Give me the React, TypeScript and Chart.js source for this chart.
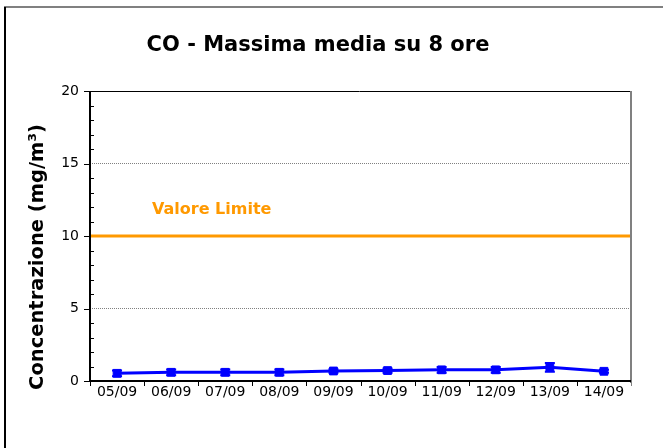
import React, { useEffect, useRef } from "react";
import { Chart, registerables } from "chart.js";

Chart.register(...registerables);

const categories = ["05/09", "06/09", "07/09", "08/09", "09/09", "10/09", "11/09", "12/09", "13/09", "14/09"];
const values = [0.53, 0.6, 0.6, 0.6, 0.69, 0.72, 0.77, 0.77, 0.94, 0.67];
const errors = [0.2, 0.2, 0.2, 0.2, 0.12, 0.15, 0.2, 0.2, 0.3, 0.1];
const limitValue = 10;
const yTicks = [0, 5, 10, 15, 20];
const titleText = "CO - Massima media su 8 ore";
const yTitle = "Concentrazione (mg/m³)";
const limitLabel = "Valore Limite";

const FONT = "'DejaVu Sans', Verdana, sans-serif";

const decorPlugin = {
  id: "decor",
  beforeDraw(chart: any) {
    const ctx = chart.ctx;
    ctx.save();
    ctx.fillStyle = "#ffffff";
    ctx.fillRect(0, 0, chart.width, chart.height);
    ctx.restore();
  },
  beforeDatasetsDraw(chart: any) {
    const ctx = chart.ctx;
    const { left, right } = chart.chartArea;
    const y = chart.scales.y;
    const py = y.getPixelForValue(limitValue);
    ctx.save();
    ctx.strokeStyle = "#ff9900";
    ctx.lineWidth = 3;
    ctx.beginPath();
    ctx.moveTo(left, py);
    ctx.lineTo(right, py);
    ctx.stroke();
    ctx.restore();
  },
  afterDatasetsDraw(chart: any) {
    const ctx = chart.ctx;
    const y = chart.scales.y;
    const x = chart.scales.x;
    ctx.save();
    ctx.strokeStyle = "#0000ff";
    ctx.lineWidth = 2;
    values.forEach((v, i) => {
      const px = x.getPixelForValue(i);
      const y1 = y.getPixelForValue(v - errors[i]);
      const y2 = y.getPixelForValue(v + errors[i]);
      ctx.beginPath();
      ctx.moveTo(px, y1);
      ctx.lineTo(px, y2);
      ctx.moveTo(px - 5, y1);
      ctx.lineTo(px + 5, y1);
      ctx.moveTo(px - 5, y2);
      ctx.lineTo(px + 5, y2);
      ctx.stroke();
    });
    ctx.restore();
  },
  afterDraw(chart: any) {
    const ctx = chart.ctx;
    const { left, right, top, bottom } = chart.chartArea;
    const y = chart.scales.y;
    ctx.save();
    ctx.lineWidth = 1;
    ctx.strokeStyle = "#000000";
    ctx.beginPath();
    ctx.moveTo(left - 2, Math.round(top) + 0.5);
    ctx.lineTo(right, Math.round(top) + 0.5);
    ctx.stroke();
    ctx.strokeStyle = "#808080";
    ctx.lineWidth = 2;
    ctx.beginPath();
    ctx.moveTo(Math.round(right), top);
    ctx.lineTo(Math.round(right), bottom + 2);
    ctx.stroke();
    ctx.strokeStyle = "#000000";
    ctx.lineWidth = 2;
    ctx.beginPath();
    ctx.moveTo(Math.round(left), top);
    ctx.lineTo(Math.round(left), bottom + 1);
    ctx.stroke();
    ctx.beginPath();
    ctx.moveTo(left, Math.round(bottom));
    ctx.lineTo(right, Math.round(bottom));
    ctx.stroke();
    ctx.lineWidth = 1;
    for (let v = 0; v <= 20; v++) {
      const py = Math.round(y.getPixelForValue(v)) + 0.5;
      ctx.beginPath();
      if (v % 5 === 0) {
        ctx.moveTo(left - 6, py);
        ctx.lineTo(left, py);
      } else {
        ctx.moveTo(left, py);
        ctx.lineTo(left + 4, py);
      }
      ctx.stroke();
    }
    const n = categories.length;
    const w = (right - left) / n;
    for (let i = 0; i <= n; i++) {
      const px = Math.round(left + i * w) + 0.5;
      ctx.strokeStyle = i === n ? "#808080" : "#000000";
      ctx.beginPath();
      ctx.moveTo(px, bottom);
      ctx.lineTo(px, bottom + 5);
      ctx.stroke();
    }
    ctx.strokeStyle = "#808080";
    ctx.lineWidth = 2;
    ctx.beginPath();
    ctx.moveTo(4, 7);
    ctx.lineTo(chart.width, 7);
    ctx.stroke();
    ctx.strokeStyle = "#000000";
    ctx.beginPath();
    ctx.moveTo(5, 7);
    ctx.lineTo(5, chart.height);
    ctx.stroke();
    ctx.fillStyle = "#000000";
    ctx.font = `bold 21px ${FONT}`;
    ctx.textAlign = "center";
    ctx.textBaseline = "middle";
    ctx.fillText(titleText, 318, 46);
    ctx.save();
    ctx.translate(38, 257);
    ctx.rotate(-Math.PI / 2);
    ctx.font = `bold 19.5px ${FONT}`;
    ctx.fillText(yTitle, 0, 0);
    ctx.restore();
    ctx.fillStyle = "#ff9900";
    ctx.font = `bold 16px ${FONT}`;
    ctx.textAlign = "left";
    ctx.fillText(limitLabel, 152, 210);
    ctx.restore();
  },
};

export default function App() {
  const ref = useRef<HTMLCanvasElement>(null);
  useEffect(() => {
    const canvas = ref.current;
    if (!canvas) return;
    const chart = new Chart(canvas, {
      type: "line",
      data: {
        labels: categories,
        datasets: [
          {
            label: "CO",
            data: values,
            borderColor: "#0000ff",
            backgroundColor: "#0000ff",
            borderWidth: 3,
            pointStyle: "rect",
            pointRadius: 5.5,
            pointBorderWidth: 1,
            fill: false,
          } as any,
        ],
      },
      options: {
        animation: false,
        responsive: false,
        maintainAspectRatio: false,
        layout: { padding: { left: 0, right: 32, top: 91, bottom: 0 } },
        plugins: {
          legend: { display: false },
          title: { display: false },
          tooltip: { enabled: false },
        },
        scales: {
          x: {
            type: "category",
            offset: true,
            grid: { display: false, drawTicks: false },
            border: { display: false },
            ticks: {
              color: "#000000",
              font: { family: FONT, size: 14 },
              padding: 3,
              maxRotation: 0,
              autoSkip: false,
            },
            afterFit(scale: any) {
              scale.height = 67;
            },
          },
          y: {
            min: 0,
            max: 20,
            afterBuildTicks(scale: any) {
              scale.ticks = yTicks.map((v) => ({ value: v }));
            },
            grid: {
              drawTicks: false,
              color: (c: any) => (c.tick && (c.tick.value === 5 || c.tick.value === 15) ? "#808080" : "rgba(0,0,0,0)"),
              lineWidth: 1,
              borderDash: [1, 1],
            } as any,
            border: { display: false, dash: [1, 1] } as any,
            ticks: {
              color: "#000000",
              font: { family: FONT, size: 14 },
              padding: 11,
            },
            afterFit(scale: any) {
              scale.width = 90;
            },
          },
        },
      } as any,
      plugins: [decorPlugin],
    });
    return () => chart.destroy();
  }, []);
  return (
    <div style={{ position: "fixed", left: 0, top: 0, width: 663, height: 448, background: "#fff" }}>
      <canvas ref={ref} width={663} height={448} style={{ width: 663, height: 448, display: "block" }} />
    </div>
  );
}
